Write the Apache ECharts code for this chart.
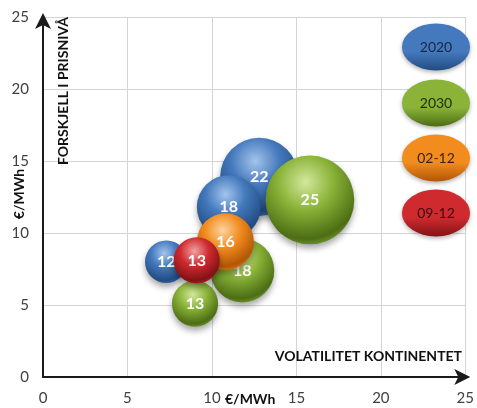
<!DOCTYPE html>
<html>
<head>
<meta charset="utf-8">
<script src="https://cdn.jsdelivr.net/npm/echarts@6/dist/echarts.min.js"></script>
<style>html,body{margin:0;padding:0;background:#fff}#c{width:477px;height:408px}</style>
</head>
<body>
<div id="c"></div>
<script>
// ---- data ----
const seriesNames = ['2020', '2030', '02-12', '09-12'];
// [volatilitet (x), forskjell (y), bubble value]
const data2020 = [[12.8, 13.9, 22], [11.0, 11.8, 18], [7.3, 8.0, 12]];
const data2030 = [[15.8, 12.3, 25], [11.8, 7.4, 18], [9.0, 5.1, 13]];
const data0212 = [[10.8, 9.4, 16]];
const data0912 = [[9.1, 8.1, 13]];
const xTicks = [0, 5, 10, 15, 20, 25];
const yTicks = [0, 5, 10, 15, 20, 25];

const palette = {
  '2020': {light: '#a3c4ec', base: '#4479bd', dark: '#224c82', text: '#17263f'},
  '2030': {light: '#d3e89c', base: '#8ab338', dark: '#4c6d14', text: '#1f2a10'},
  '02-12': {light: '#fdd3a0', base: '#f28c1e', dark: '#b25606', text: '#3a1f08'},
  '09-12': {light: '#f2a0a0', base: '#cf2a2e', dark: '#821216', text: '#3a0a0c'}
};

function sphere(name) {
  const p = palette[name];
  return {
    type: 'radial', x: 0.45, y: 0.3, r: 0.78,
    colorStops: [
      {offset: 0, color: p.light},
      {offset: 0.4, color: p.base},
      {offset: 0.82, color: p.dark},
      {offset: 1, color: p.base}
    ]
  };
}
const allData = [data2020, data2030, data0212, data0912];
const FONT = 'Lato, "Open Sans", sans-serif';

const series = seriesNames.map((n, i) => ({
  name: n,
  type: 'scatter',
  data: allData[i],
  z: 2 + i,
  symbolSize: v => v[2] * 3.55,
  itemStyle: {
    color: sphere(n), opacity: 1,
    shadowBlur: 6, shadowOffsetY: 4, shadowColor: 'rgba(0,0,0,0.35)'
  },
  label: {
    show: true, position: 'inside',
    formatter: p => p.value[2],
    color: '#ffffff', fontSize: 16, fontWeight: 'bold', fontFamily: FONT
  },
  emphasis: {disabled: true}
}));

// legend ellipses (graphic)
const legendY = [47, 103, 158, 213];
const legendEls = [];
seriesNames.forEach((n, i) => {
  const p = palette[n];
  legendEls.push({
    type: 'circle', x: 436, y: legendY[i], scaleX: 1.45, scaleY: 1,
    shape: {cx: 0, cy: 0, r: 23.5},
    style: {
      fill: {type: 'linear', x: 0, y: 0, x2: 0, y2: 1, colorStops: [
        {offset: 0, color: p.base}, {offset: 0.6, color: p.base}, {offset: 1, color: p.dark}]},
      shadowBlur: 4, shadowOffsetY: 2, shadowColor: 'rgba(0,0,0,0.3)'
    },
    z: 10
  });
  legendEls.push({
    type: 'text', x: 436, y: legendY[i],
    style: {text: n, fill: p.text, font: '14px ' + FONT, align: 'center', verticalAlign: 'middle'},
    z: 11
  });
});

const chart = echarts.init(document.getElementById('c'));
chart.setOption({
  animation: false,
  backgroundColor: '#ffffff',
  grid: {left: 43, right: 9, top: 17, bottom: 31, containLabel: false},
  xAxis: {
    type: 'value', min: xTicks[0], max: xTicks[xTicks.length - 1], interval: 5,
    axisLine: {show: true, lineStyle: {color: '#1a1a1a', width: 2}, symbol: ['none', 'arrow'], symbolSize: [12, 16], symbolOffset: [0, 5]},
    axisTick: {show: false},
    splitLine: {show: true, lineStyle: {color: '#d4d4d4', width: 1}},
    axisLabel: {color: '#404040', fontSize: 15, fontFamily: FONT, margin: 14}
  },
  yAxis: {
    type: 'value', min: yTicks[0], max: yTicks[yTicks.length - 1], interval: 5,
    axisLine: {show: true, lineStyle: {color: '#1a1a1a', width: 2}, symbol: ['none', 'arrow'], symbolSize: [12, 16], symbolOffset: [0, 4]},
    axisTick: {show: false},
    splitLine: {show: true, lineStyle: {color: '#d4d4d4', width: 1}},
    axisLabel: {color: '#404040', fontSize: 15, fontFamily: FONT, margin: 14}
  },
  graphic: [
    {type: 'text', x: 462, y: 356, style: {text: 'VOLATILITET KONTINENTET', fill: '#111', font: 'bold 14px ' + FONT, align: 'right', verticalAlign: 'middle'}, z: 10},
    {type: 'text', x: 225, y: 399, style: {text: '€/MWh', fill: '#111', font: 'bold 14px ' + FONT, align: 'left', verticalAlign: 'middle'}, z: 10},
    {type: 'text', x: 63, y: 17, rotation: Math.PI / 2, style: {text: 'FORSKJELL I PRISNIVÅ', fill: '#111', font: 'bold 14px ' + FONT, align: 'right', verticalAlign: 'middle'}, z: 10},
    {type: 'text', x: 19, y: 194, rotation: Math.PI / 2, style: {text: '€/MWh', fill: '#111', font: 'bold 14px ' + FONT, align: 'center', verticalAlign: 'middle'}, z: 10}
  ].concat(legendEls),
  series: series
});
</script>
</body>
</html>
